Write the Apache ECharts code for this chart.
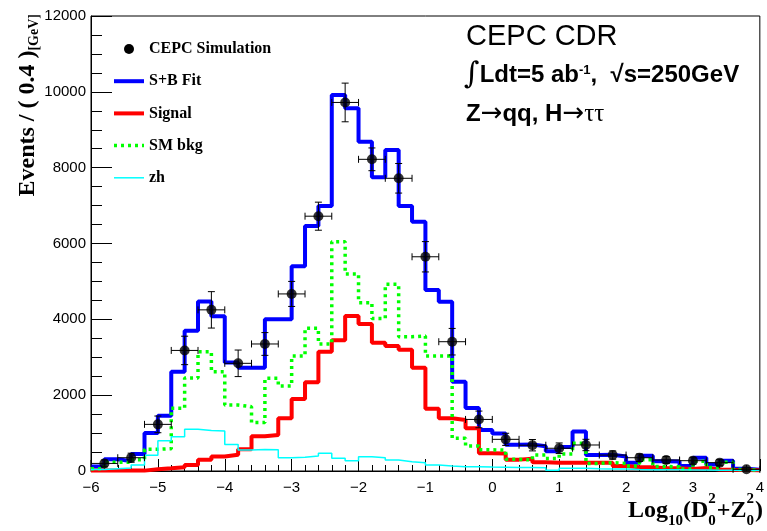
<!DOCTYPE html>
<html>
<head>
<meta charset="utf-8">
<script src="https://cdn.jsdelivr.net/npm/echarts@6/dist/echarts.min.js"></script>
<style>
  html, body { margin: 0; padding: 0; background: #fff; }
  #main { width: 767px; height: 531px; }
</style>
</head>
<body>
<div id="main"></div>
<script>
// bins are 0.2 wide from -6 to 4, values given per bin (left edge)
var binEdges = []
for (var i = 0; i <= 50; i++) binEdges.push(+(-6 + 0.2 * i).toFixed(1))

var sbFit = [120, 310, 260, 450, 1000, 1460, 2620, 3700, 4470, 4080,
  2860, 2720, 2720, 4000, 4000, 5400, 6460, 6990, 9915, 9565,
  8685, 7744, 8465, 6990, 6575, 4773, 4465, 2356, 1660, 1081,
  990, 690, 700, 650, 520, 630, 1040, 420, 430, 380,
  220, 400, 260, 250, 130, 350, 170, 270, 60, 30]

var signal = [15, 15, 10, 10, 45, 70, 100, 158, 300, 380,
  430, 575, 915, 950, 1390, 1900, 2340, 3146, 3450, 4087,
  3880, 3384, 3296, 3200, 2720, 1640, 1390, 1345, 1130, 470,
  460, 300, 320, 230, 220, 220, 220, 220, 220, 130,
  100, 100, 70, 70, 50, 80, 40, 30, 25, 20]

var smBkg = [60, 230, 230, 300, 572, 590, 1653, 2450, 3146, 2620,
  1740, 1697, 1280, 2443, 2242, 3033, 3762, 3350, 6048, 5195,
  4440, 4025, 4922, 3542, 3560, 3032, 3032, 862, 659, 560,
  550, 310, 290, 420, 330, 450, 730, 200, 220, 200,
  130, 300, 120, 110, 50, 260, 90, 230, 40, 20]

var zh = [40, 60, 80, 160, 415, 800, 905, 1100, 1065, 1055,
  700, 554, 565, 560, 350, 360, 396, 470, 335, 272,
  378, 351, 290, 245, 219, 158, 132, 113, 112, 105,
  100, 90, 90, 85, 20, 75, 70, 60, 55, 50,
  40, 35, 30, 30, 25, 25, 20, 20, 15, 15]

// simulated data, 0.4 wide bins
var dataX = [-5.8, -5.4, -5.0, -4.6, -4.2, -3.8, -3.4, -3.0, -2.6, -2.2,
  -1.8, -1.4, -1.0, -0.6, -0.2, 0.2, 0.6, 1.0, 1.4, 1.8,
  2.2, 2.6, 3.0, 3.4, 3.8]
var dataY = [200, 350, 1230, 3180, 4250, 2840, 3350, 4670, 6720, 9720,
  8220, 7720, 5650, 3410, 1360, 835, 680, 600, 686, 420,
  350, 290, 272, 220, 44]
var dataErr = [90, 120, 220, 375, 480, 350, 300, 330, 370, 510,
  300, 390, 400, 350, 220, 160, 150, 140, 150, 110,
  100, 90, 90, 80, 40]
var halfWidth = 0.2

var xTicks = [-6, -5, -4, -3, -2, -1, 0, 1, 2, 3, 4]

function histData(vals) {
  var out = vals.map(function (v, i) { return [binEdges[i], v] })
  out.push([binEdges[vals.length], vals[vals.length - 1]])
  return out
}

// x axis title pieces, placed with measured widths
var ctx = document.createElement('canvas').getContext('2d')
function tw(text, size) {
  ctx.font = 'bold ' + size + 'px "Liberation Serif"'
  return ctx.measureText(text).width
}
var big = 24, small = 15
var midY = 511, subY = 521, supY = 499
var pieces = [
  { t: 'Log', s: big, y: midY },
  { t: '10', s: small, y: subY },
  { t: '(D', s: big, y: midY },
  { stack: true },
  { t: '+Z', s: big, y: midY },
  { stack: true },
  { t: ')', s: big, y: midY }
]
var total = 0
pieces.forEach(function (p) {
  p.w = p.stack ? tw('2', small) + 1 : tw(p.t, p.s)
  total += p.w
})
var xt = 763 - total
var xTitle = []
pieces.forEach(function (p) {
  var f = 'bold ' + (p.stack ? small : p.s) + 'px "Liberation Serif"'
  if (p.stack) {
    xTitle.push({ type: 'text', x: xt, y: supY, style: { text: '2', font: f, fill: '#000', verticalAlign: 'middle' } })
    xTitle.push({ type: 'text', x: xt, y: subY, style: { text: '0', font: f, fill: '#000', verticalAlign: 'middle' } })
  } else {
    xTitle.push({ type: 'text', x: xt, y: p.y, style: { text: p.t, font: f, fill: '#000', verticalAlign: 'middle' } })
  }
  xt += p.w
})

var myChart = echarts.init(document.getElementById('main'))
var option = {
  animation: false,
  grid: { left: 91, right: 3, top: 16, bottom: 60, show: true, borderColor: '#000', borderWidth: 1 },
  legend: {
    orient: 'vertical',
    left: 107,
    top: 36,
    itemWidth: 30,
    itemHeight: 10,
    itemGap: 16.2,
    itemStyle: { opacity: 0 },
    textStyle: { fontFamily: 'Liberation Serif', fontWeight: 'bold', fontSize: 16, color: '#000' },
    data: [
      { name: 'CEPC Simulation', icon: 'circle', itemStyle: { opacity: 1 } },
      { name: 'S+B Fit', lineStyle: { width: 4 } },
      { name: 'Signal', lineStyle: { width: 4 } },
      { name: 'SM bkg', lineStyle: { width: 3.5 } },
      { name: 'zh', lineStyle: { width: 1.5 } }
    ]
  },
  xAxis: {
    type: 'value',
    min: -6,
    max: 4,
    interval: 1,
    axisLine: { onZero: false, lineStyle: { color: '#000', width: 1 } },
    axisTick: { inside: true, length: 12, lineStyle: { color: '#000' } },
    minorTick: { show: true, splitNumber: 5, length: 6, lineStyle: { color: '#000' } },
    splitLine: { show: false },
    axisLabel: {
      color: '#000', fontFamily: 'Liberation Sans', fontSize: 15, margin: 9,
      formatter: function (v) { return xTicks.indexOf(v) >= 0 ? String(v).replace('-', '\u2212') : '' }
    }
  },
  yAxis: {
    type: 'value',
    min: 0,
    max: 12000,
    interval: 2000,
    axisLine: { show: true, onZero: false, lineStyle: { color: '#000', width: 1 } },
    axisTick: { show: true, inside: true, length: 21, lineStyle: { color: '#000' } },
    minorTick: { show: true, splitNumber: 4, length: 11, lineStyle: { color: '#000' } },
    splitLine: { show: false },
    axisLabel: {
      color: '#000', fontFamily: 'Liberation Sans', fontSize: 15, margin: 5,
      formatter: function (v) { return String(v) }
    }
  },
  graphic: [
    { type: 'text', x: 466, y: 37, style: { text: 'CEPC CDR', font: '29px "Liberation Sans"', fill: '#000', verticalAlign: 'middle' } },
    {
      type: 'text', x: 464, y: 75,
      style: {
        text: '{i|\u222B}{a|Ldt=5 ab}{s|-1}{a|,  \u221As=250GeV}',
        fill: '#000', verticalAlign: 'middle',
        rich: {
          i: { font: '30px "DejaVu Serif"', lineHeight: 32, fill: '#000' },
          a: { font: 'bold 24px "Liberation Sans"', lineHeight: 32, verticalAlign: 'middle', fill: '#000' },
          s: { font: 'bold 13px "Liberation Sans"', lineHeight: 13, verticalAlign: 'top', padding: [5, 0, 0, 0], fill: '#000' }
        }
      }
    },
    {
      type: 'text', x: 466, y: 114,
      style: {
        text: '{a|Z}{r|\u2192}{a|qq, H}{r|\u2192}{t|\u03C4\u03C4}',
        fill: '#000', verticalAlign: 'middle',
        rich: {
          a: { font: 'bold 24px "Liberation Sans"', lineHeight: 28, verticalAlign: 'middle', fill: '#000' },
          r: { font: '26px "DejaVu Sans"', lineHeight: 28, verticalAlign: 'middle', fill: '#000' },
          t: { font: '25px "Liberation Serif"', lineHeight: 28, verticalAlign: 'middle', fill: '#000' }
        }
      }
    },
    {
      type: 'text', x: 28, y: 14, rotation: Math.PI / 2,
      style: {
        text: '{a|Events / ( 0.4 )}{b|[GeV]}',
        fill: '#000', align: 'right', verticalAlign: 'middle',
        rich: {
          a: { font: 'bold 24px "Liberation Serif"', lineHeight: 26, fill: '#000' },
          b: { font: 'bold 14px "Liberation Serif"', lineHeight: 14, verticalAlign: 'bottom', fill: '#000' }
        }
      }
    }
  ].concat(xTitle),
  series: [
    {
      name: 'S+B Fit', type: 'line', step: 'end', symbol: 'none', z: 2,
      lineStyle: { color: '#0000ff', width: 4 }, itemStyle: { color: '#0000ff' },
      data: histData(sbFit)
    },
    {
      name: 'Signal', type: 'line', step: 'end', symbol: 'none', z: 3,
      lineStyle: { color: '#ff0000', width: 4 }, itemStyle: { color: '#ff0000' },
      data: histData(signal)
    },
    {
      name: 'SM bkg', type: 'line', step: 'end', symbol: 'none', z: 4,
      lineStyle: { color: '#00ff00', width: 3.5, type: [3, 4] }, itemStyle: { color: '#00ff00' },
      data: histData(smBkg)
    },
    {
      name: 'zh', type: 'line', step: 'end', symbol: 'none', z: 5,
      lineStyle: { color: '#00ffff', width: 1.5 }, itemStyle: { color: '#00ffff' },
      data: histData(zh)
    },
    {
      name: 'errors', type: 'custom', z: 6,
      renderItem: function (params, api) {
        var x = api.value(0), y = api.value(1), e = api.value(2)
        var c = api.coord([x, y])
        var t = api.coord([x, y + e])
        var b = api.coord([x, y - e])
        var l = api.coord([x - halfWidth, y])
        var r = api.coord([x + halfWidth, y])
        var cap = 3.5
        var st = { stroke: '#000', lineWidth: 1 }
        return {
          type: 'group',
          children: [
            { type: 'line', shape: { x1: c[0], y1: t[1], x2: c[0], y2: b[1] }, style: st },
            { type: 'line', shape: { x1: c[0] - cap, y1: t[1], x2: c[0] + cap, y2: t[1] }, style: st },
            { type: 'line', shape: { x1: c[0] - cap, y1: b[1], x2: c[0] + cap, y2: b[1] }, style: st },
            { type: 'line', shape: { x1: l[0], y1: c[1], x2: r[0], y2: c[1] }, style: st },
            { type: 'line', shape: { x1: l[0], y1: c[1] - cap, x2: l[0], y2: c[1] + cap }, style: st },
            { type: 'line', shape: { x1: r[0], y1: c[1] - cap, x2: r[0], y2: c[1] + cap }, style: st }
          ]
        }
      },
      data: dataX.map(function (x, i) { return [x, dataY[i], dataErr[i]] })
    },
    {
      name: 'CEPC Simulation', type: 'scatter', symbol: 'circle', symbolSize: 10, z: 7,
      itemStyle: { color: '#000' },
      data: dataX.map(function (x, i) { return [x, dataY[i]] })
    }
  ]
}
myChart.setOption(option)
</script>
</body>
</html>
